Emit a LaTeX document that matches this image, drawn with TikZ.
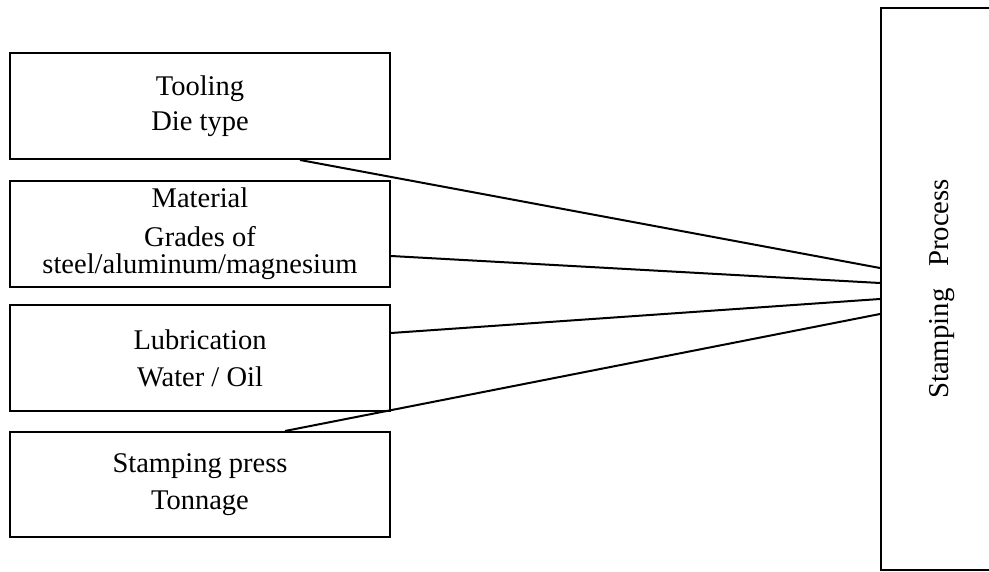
\documentclass[tikz,border=0pt]{standalone}
\usepackage{fontspec}
\setmainfont{Liberation Serif}
\begin{document}
\begin{tikzpicture}[x=1pt,y=-1pt,
  factor/.style={draw, line width=2pt, minimum width=380pt, minimum height=106pt,
    inner sep=0pt, align=center, font=\fontsize{28.5}{28.5}\selectfont},
  process/.style={draw, line width=2pt, rotate=90, minimum width=562pt,
    minimum height=122pt, inner sep=0pt, font=\fontsize{28.8}{28.8}\selectfont},
  link/.style={line width=2pt}]
\useasboundingbox (0,0) rectangle (989,572);

% input factors on the left
\node[factor] (tool)  at (200,106)   {Tooling\\[6.5pt]Die type};
\node[factor] (mat)   at (200,234)   {Material\\[10.5pt]Grades of\\[-1.5pt]steel/aluminum/magnesium};
\node[factor] (lub)   at (200,358)   {Lubrication\\[8.5pt]Water / Oil};
\node[factor, minimum height=105pt] (press) at (200,484.5) {Stamping press\\[8.5pt]Tonnage};

% the process block on the right
\node[process] (proc) at (942,289) {Stamping\hspace{0.75em}Process};

% connectors from each factor to the process
\draw[link] ([xshift=100pt]tool.south) -- ([yshift=21pt]proc.north);
\draw[link] ([yshift=-22pt]mat.east) -- ([yshift=6pt]proc.north);
\draw[link] ([yshift=25pt]lub.east) -- ([yshift=-10pt]proc.north);
\draw[link] ([xshift=85pt]press.north) -- ([yshift=-25pt]proc.north);
\end{tikzpicture}
\end{document}
